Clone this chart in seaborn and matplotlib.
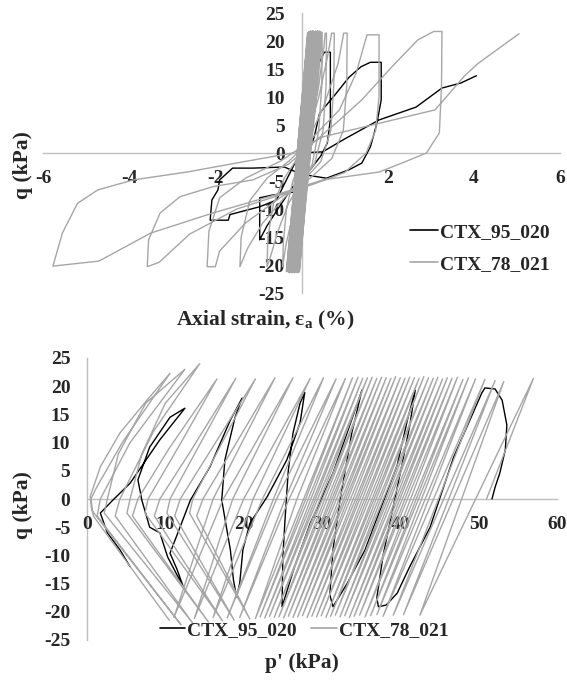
import numpy as np
import pandas as pd
import matplotlib
matplotlib.use("Agg")
import matplotlib.pyplot as plt
import seaborn as sns
from matplotlib.lines import Line2D

sns.set_theme(style="white")
plt.rcParams['font.family'] = ['Liberation Serif', 'DejaVu Serif']
plt.rcParams['font.weight'] = 'bold'
plt.rcParams['axes.unicode_minus'] = False
plt.rcParams['mathtext.fontset'] = 'custom'
plt.rcParams['mathtext.rm'] = 'Liberation Serif:bold'
plt.rcParams['mathtext.bf'] = 'Liberation Serif:bold'

TESTS = ["CTX_95_020", "CTX_78_021"]
COLORS = {"CTX_95_020": "#000000", "CTX_78_021": "#a6a6a6"}

# ---------------- top panel: q vs axial strain ----------------
black_strain = [0.00, 0.08, 0.15, 0.12, 0.02, -0.05, -0.02, 0.10, 0.25, 0.40,
                0.53, 0.67, 0.67, 0.60, 0.45, 0.20, -0.20, -0.55, -0.80, -0.97,
                -0.97, -0.67, -0.20, 0.00, 0.30, 0.42, 0.80, 1.10, 1.38, 1.60,
                1.85, 1.85, 1.75, 1.60, 1.40, 1.10, 0.58, 0.00, -0.40, -1.13,
                -1.60, -1.90, -1.94, -2.08, -2.12, -1.70, -1.66, -1.27, -0.97, -0.58,
                -0.35, -0.10, 0.20, 0.49, 1.00, 1.80, 2.66, 3.26, 3.70, 4.06]
black_q_strain = [0.0, 9.0, 18.5, 10.0, -3.0, -16.5, -8.0, 4.0, 11.0, 16.0,
                  18.0, 18.0, 6.0, 1.8, -0.5, -3.0, -6.0, -10.0, -13.0, -15.5,
                  -8.0, -7.5, -7.0, -4.0, 3.0, 7.1, 10.6, 13.5, 15.4, 16.2,
                  16.2, 9.5, 5.3, 1.1, -1.8, -3.0, -4.5, -3.8, -2.5, -2.7,
                  -2.7, -4.8, -6.6, -8.4, -12.0, -12.0, -11.0, -10.2, -9.6, -8.4,
                  -4.8, -1.0, 0.1, 0.2, 2.5, 5.9, 8.2, 11.6, 12.5, 13.8]

gray_band_top_strain = [0.14, 0.16, 0.15, 0.18, 0.19, 0.18, 0.21, 0.22, 0.21, 0.24,
                        0.25, 0.24, 0.27, 0.28, 0.27, 0.30, 0.31, 0.30, 0.33, 0.34,
                        0.33, 0.36, 0.37, 0.36, 0.39, 0.40, 0.41, 0.43, 0.44, 0.46]
gray_band_top_q = [21.4, 21.6, 21.5, 21.7, 21.5, 21.6, 21.8, 21.5, 21.7, 21.6,
                   21.8, 21.5, 21.7, 21.6, 21.8, 21.5, 21.7, 21.6, 21.8, 21.6,
                   21.7, 21.5, 21.8, 21.6, 21.7, 21.5, 21.8, 21.6, 21.7, 21.6]
gray_band_bot_strain = [-0.33, -0.35, -0.32, -0.30, -0.31, -0.28, -0.27, -0.28, -0.25, -0.24,
                        -0.25, -0.22, -0.21, -0.22, -0.19, -0.18, -0.19, -0.16, -0.15, -0.16,
                        -0.13, -0.12, -0.13, -0.10, -0.09, -0.10, -0.07, -0.06, -0.07, -0.05]
gray_band_bot_q = [-21.0, -21.2, -21.1, -21.3, -21.0, -21.2, -21.4, -21.1, -21.3, -21.2,
                   -21.0, -21.3, -21.1, -21.4, -21.2, -21.0, -21.3, -21.1, -21.2, -21.4,
                   -21.1, -21.3, -21.0, -21.2, -21.4, -21.1, -21.3, -21.2, -21.0, -21.2]

gray_tail_strain = [0.10, 0.28, 0.42, 0.48,
                    0.47, 0.40, 0.25, 0.00, -0.20, -0.35, -0.44,
                    -0.42, -0.35, -0.20, 0.00, 0.20, 0.40, 0.52, 0.55, 0.58,
                    0.57, 0.50, 0.30, 0.00, -0.30, -0.55, -0.72, -0.80,
                    -0.78, -0.65, -0.40, -0.10, 0.15, 0.40, 0.60, 0.70, 0.76,
                    0.75, 0.68, 0.45, 0.10, -0.40, -0.90, -1.25, -1.43,
                    -1.40, -1.20, -0.80, -0.30, 0.10, 0.50, 0.85, 0.98, 1.06,
                    1.05, 0.97, 0.70, 0.20, -0.50, -1.30, -1.90, -2.00, -2.19,
                    -2.15, -1.90, -1.30, -0.50, 0.10, 0.88, 1.27, 1.52, 1.80,
                    1.80, 1.72, 1.50, 1.00, 0.30, -0.50, -1.50, -2.60, -3.30, -3.58,
                    -3.55, -3.28, -2.82, -2.05, -1.13, -0.30, 0.30, 0.90, 1.40, 2.10, 2.70, 3.07, 3.26,
                    3.25, 3.20, 2.90, 2.33, 1.80, 0.50, -0.44, -2.05, -3.50, -4.70, -5.77,
                    -5.55, -5.20, -4.73, -3.90, -2.66, -1.30, -0.20, 0.50, 1.80, 3.10, 3.80, 4.10, 5.05]
gray_tail_q_strain = [-8.0, 5.0, 16.0, 21.5,
                      12.0, 4.0, -2.0, -6.0, -11.0, -16.0, -20.3,
                      -16.0, -10.0, -5.0, -1.0, 4.0, 12.0, 19.0, 21.4, 21.4,
                      12.0, 4.0, -2.0, -5.0, -9.0, -14.0, -18.5, -20.3,
                      -15.0, -9.0, -4.5, -1.0, 3.0, 10.0, 17.0, 21.4, 21.4,
                      12.0, 4.0, -1.5, -4.5, -8.0, -12.5, -17.0, -20.3,
                      -15.0, -8.5, -4.5, -1.5, 1.5, 8.0, 16.0, 21.4, 21.4,
                      12.0, 4.0, -1.0, -4.5, -8.0, -12.5, -17.5, -20.3, -20.3,
                      -14.0, -8.0, -4.5, -1.5, 1.5, 7.7, 14.3, 21.1, 21.1,
                      10.0, 4.0, 0.0, -3.5, -5.5, -7.5, -10.0, -14.5, -19.5, -20.3,
                      -15.5, -10.7, -7.8, -6.0, -4.8, -2.0, 2.0, 6.0, 9.5, 15.4, 20.2, 21.7, 21.7,
                      12.0, 3.6, 0.0, -1.8, -3.4, -4.8, -7.1, -10.7, -14.3, -19.3, -20.2,
                      -14.3, -9.0, -6.6, -4.8, -3.4, -1.5, 0.0, 2.9, 5.3, 7.7, 13.9, 16.0, 21.3]

# ---------------- bottom panel: q vs p' ----------------
black_p = [51.7, 52.1, 52.7, 53.4, 53.6, 53.0, 52.1, 50.8, 50.4, 48.5,
           46.8, 45.1, 43.8, 41.2, 39.6, 38.2, 37.2, 37.0, 37.8, 39.0,
           40.2, 41.2, 41.9, 40.9, 39.6, 37.4, 35.5, 33.2, 31.4, 31.0,
           31.4, 32.3, 33.8, 35.1, 33.2, 31.4, 28.5, 26.5, 24.9, 25.0,
           25.3, 25.7, 26.3, 27.2, 27.8, 27.2, 25.5, 23.0, 20.8, 19.9,
           19.5, 19.1, 18.7, 18.3, 17.2, 17.6, 18.9, 19.8, 18.3, 15.7,
           13.2, 10.6, 11.5, 12.3, 10.3, 9.3, 8.0, 7.0, 6.5, 8.0,
           10.6, 12.5, 9.3, 5.5, 3.3, 1.7, 2.6, 4.2, 5.5]
black_q_p = [0.0, 2.1, 4.6, 8.7, 13.1, 17.5, 19.5, 19.7, 18.8, 12.8,
             7.4, 0.4, -5.0, -12.0, -16.7, -18.8, -19.1, -17.5, -10.0, -2.0,
             6.0, 13.0, 19.3, 14.0, 6.0, -2.0, -9.0, -15.0, -19.1, -17.0,
             -9.0, -0.2, 11.7, 19.3, 11.7, 4.6, -4.3, -12.0, -19.1, -10.3,
             -3.2, 5.1, 11.7, 17.0, 18.9, 13.5, 6.9, 0.4, -4.3, -9.0,
             -14.9, -17.4, -14.4, -9.0, -0.2, 6.9, 14.5, 17.9, 14.0, 5.7,
             -0.2, -9.6, -12.5, -15.6, -10.3, -6.0, -5.0, -0.2, 3.4, 9.2,
             14.5, 16.1, 10.5, 2.8, -0.2, -2.5, -6.0, -9.0, -12.0]

gray_start_p = [51.0]
gray_start_q = [0.0]
gray_top_p = [57.0, 53.2, 52.1, 50.8, 49.6, 48.7, 48.0, 47.3, 46.6, 46.0,
              45.4, 44.8, 44.2, 43.6, 43.0, 42.4, 41.8, 41.2, 40.6, 40.0,
              39.4, 38.8, 38.2, 37.6, 37.0, 36.4, 35.8, 35.2, 34.6, 33.9]
gray_top_q = [21.4, 20.8, 21.0, 21.2, 21.3, 21.5, 21.2, 21.6, 21.4, 21.5,
              21.3, 21.6, 21.4, 21.5, 21.7, 21.4, 21.5, 21.6, 21.4, 21.5,
              21.7, 21.4, 21.5, 21.6, 21.4, 21.6, 21.5, 21.4, 21.6, 21.5]
gray_bot_p = [42.5, 40.4, 39.1, 37.8, 37.0, 36.2, 35.5, 34.8, 34.1, 33.5,
              32.9, 32.3, 31.7, 31.1, 30.5, 29.9, 29.3, 28.7, 28.1, 27.5,
              26.9, 26.3, 25.7, 25.1, 24.5, 23.9, 23.3, 22.7, 22.1, 21.5]
gray_bot_q = [-20.6, -20.5, -20.6, -20.8, -20.5, -20.7, -20.9, -20.6, -20.8, -21.0,
              -20.7, -20.9, -20.6, -20.8, -21.0, -20.7, -20.9, -20.8, -21.0, -20.7,
              -20.9, -21.0, -20.8, -21.1, -20.9, -21.0, -20.8, -21.1, -20.9, -21.2]
gray_tail_p = [26.8, 33.0, 25.8, 19.5,
               25.3, 31.8, 24.2, 17.9,
               23.8, 30.2, 22.4, 16.1,
               21.2, 28.5, 20.0, 13.7,
               18.6, 26.3, 17.4, 11.1,
               16.1, 24.0, 14.8, 14.0, 20.8,
               13.1, 13.5, 21.5, 11.9, 11.2, 18.8,
               10.2, 10.6, 19.0, 13.0, 9.3, 8.6, 17.3,
               7.4, 7.8, 12.0, 16.6, 10.5, 6.5, 5.8, 15.5,
               5.1, 5.5, 7.0, 10.0, 14.4, 8.5, 4.2, 3.6, 13.5,
               2.2, 2.6, 4.0, 7.5, 12.5, 5.5, 1.7, 1.3, 12.0,
               0.6, 0.4, 1.7, 4.2, 7.7, 10.6, 4.5, 1.2, 0.5, 0.8, 10.5]
gray_tail_q = [0.0, 21.4, 0.0, -21.0,
               0.0, 21.3, 0.0, -21.1,
               0.0, 21.5, 0.0, -21.0,
               0.0, 21.4, 0.0, -21.2,
               0.0, 21.5, 0.0, -21.0,
               0.0, 21.5, 0.0, -3.0, -21.3,
               -2.5, 0.0, 21.3, 0.0, -3.0, -21.5,
               -2.5, 0.0, 21.4, 8.0, 0.0, -3.0, -21.6,
               -2.5, 0.0, 10.0, 21.3, 9.0, 0.0, -3.0, -21.8,
               -2.5, 0.0, 8.0, 17.0, 24.0, 12.0, 0.0, -3.0, -22.0,
               -2.5, 0.0, 8.0, 17.0, 23.0, 10.0, 0.0, -3.0, -22.3,
               -2.0, 0.4, 5.7, 11.7, 17.6, 22.3, 10.0, 2.0, 0.0, -3.0, -21.5]


def interleave(a, b):
    out = []
    for x, y in zip(a, b):
        out += [x, y]
    return out


gray_top_x = [0.0] + interleave(gray_band_top_strain, gray_band_bot_strain) + gray_tail_strain
gray_top_y = [0.0] + interleave(gray_band_top_q, gray_band_bot_q) + gray_tail_q_strain
gray_bot_x = gray_start_p + interleave(gray_top_p, gray_bot_p) + gray_tail_p
gray_bot_y = gray_start_q + interleave(gray_top_q, gray_bot_q) + gray_tail_q

df_top = pd.concat([
    pd.DataFrame({"x": black_strain, "q": black_q_strain, "test": TESTS[0]}),
    pd.DataFrame({"x": gray_top_x, "q": gray_top_y, "test": TESTS[1]}),
], ignore_index=True)
df_bot = pd.concat([
    pd.DataFrame({"x": black_p, "q": black_q_p, "test": TESTS[0]}),
    pd.DataFrame({"x": gray_bot_x, "q": gray_bot_y, "test": TESTS[1]}),
], ignore_index=True)

W, H = 567, 684
fig = plt.figure(figsize=(W / 100, H / 100), dpi=100)
fig.patch.set_facecolor("white")


def px_axes(x0, y0, x1, y1):
    return fig.add_axes([x0 / W, 1 - y1 / H, (x1 - x0) / W, (y1 - y0) / H])


ax1 = px_axes(43, 13, 560, 293)
ax2 = px_axes(87, 358, 557, 640)

for ax, df in ((ax1, df_top), (ax2, df_bot)):
    sns.lineplot(data=df, x="x", y="q", hue="test", hue_order=TESTS, palette=COLORS,
                 sort=False, estimator=None, legend=False, linewidth=1.0, ax=ax)


def style(ax, xlim, xticks):
    ax.set_xlim(*xlim)
    ax.set_ylim(-25, 25)
    ax.set_xticks(xticks)
    ax.set_yticks(list(range(-25, 30, 5)))
    ax.set_xlabel("")
    ax.set_ylabel("")
    ax.set_facecolor("white")
    for s in ("top", "right"):
        ax.spines[s].set_visible(False)
    ax.spines["left"].set_position(("data", 0))
    ax.spines["bottom"].set_position(("data", 0))
    for s in ("left", "bottom"):
        ax.spines[s].set_color("#bfbfbf")
        ax.spines[s].set_linewidth(1.0)
        ax.spines[s].set_zorder(0.5)
    ax.tick_params(axis="x", length=0, labelsize=14, pad=12)
    ax.tick_params(axis="y", length=0, labelsize=14, pad=12)
    for lab in ax.get_xticklabels() + ax.get_yticklabels():
        lab.set_fontweight("bold")
    ax.grid(False)


style(ax1, (-6, 6), [-6, -4, -2, 0, 2, 4, 6])
style(ax2, (0, 60), [0, 10, 20, 30, 40, 50, 60])

fs_title = 15.5
fig.text(265 / W, 1 - 320 / H, r"Axial strain, ε$_\mathbf{a}$ (%)", ha="center", va="center",
         fontsize=fs_title, fontweight="bold")
fig.text(302 / W, 1 - 663 / H, "p' (kPa)", ha="center", va="center",
         fontsize=fs_title, fontweight="bold")
fig.text(23 / W, 1 - 165 / H, "q (kPa)", ha="center", va="center", rotation=90,
         fontsize=fs_title, fontweight="bold")
fig.text(23 / W, 1 - 505 / H, "q (kPa)", ha="center", va="center", rotation=90,
         fontsize=fs_title, fontweight="bold")

handles = [Line2D([], [], color=COLORS[t], lw=1.2) for t in TESTS]
prop = {"weight": "bold", "size": 14}
ax1.legend(handles, TESTS, loc="upper left", bbox_to_anchor=(410 / W, 1 - 223 / H),
           bbox_transform=fig.transFigure, frameon=False, prop=prop,
           handlelength=1.45, handletextpad=0.1, borderpad=0, borderaxespad=0,
           labelspacing=0.75)
ax2.legend(handles, TESTS, loc="upper left", bbox_to_anchor=(160 / W, 1 - 621 / H),
           bbox_transform=fig.transFigure, frameon=False, prop=prop, ncol=2,
           handlelength=1.3, handletextpad=0.1, borderpad=0, borderaxespad=0,
           columnspacing=0.75)

fig.savefig("out.png", dpi=100, facecolor="white")
